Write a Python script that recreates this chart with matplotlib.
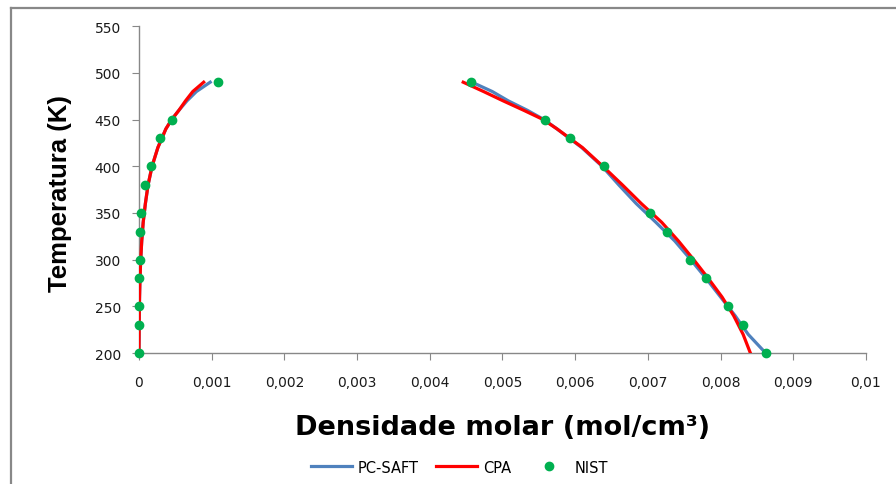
import matplotlib
matplotlib.use("Agg")
import matplotlib.pyplot as plt
from matplotlib.lines import Line2D

# ── Saturation curve data (T in K, molar density in mol/cm³) ─────────────────
T_MODEL = [200, 220, 240, 260, 280, 300, 320, 340, 360, 380, 400, 420,
           440, 450, 460, 470, 480, 490]

PCSAFT_VAP = [0.000000, 0.000002, 0.000004, 0.000008, 0.000014, 0.000024,
              0.000038, 0.000058, 0.000088, 0.000125, 0.000180, 0.000260,
              0.000370, 0.000450, 0.000550, 0.000660, 0.000790, 0.000980]
PCSAFT_LIQ = [0.00862, 0.00838, 0.00820, 0.00800, 0.00780, 0.00759,
              0.00737, 0.00711, 0.00684, 0.00660, 0.00637, 0.00609,
              0.00575, 0.00557, 0.00534, 0.00508, 0.00486, 0.00458]

CPA_VAP = [0.000000, 0.000002, 0.000004, 0.000008, 0.000014, 0.000024,
           0.000038, 0.000058, 0.000088, 0.000125, 0.000180, 0.000260,
           0.000370, 0.000450, 0.000550, 0.000640, 0.000740, 0.000890]
CPA_LIQ = [0.00841, 0.00831, 0.00818, 0.00802, 0.00783, 0.00763,
           0.00742, 0.00719, 0.00691, 0.00665, 0.00638, 0.00610,
           0.00575, 0.00556, 0.00529, 0.00501, 0.00474, 0.00446]

T_NIST_VAP = [200, 230, 250, 280, 300, 330, 350, 380, 400, 430, 450, 490]
NIST_VAP = [0.0, 0.0, 0.0, 0.0, 0.00001, 0.00001, 0.00003, 0.00008,
            0.00016, 0.00029, 0.00046, 0.00109]
T_NIST_LIQ = [200, 230, 250, 280, 300, 330, 350, 400, 430, 450, 490]
NIST_LIQ = [0.00862, 0.00831, 0.00810, 0.00780, 0.00758, 0.00726,
            0.00703, 0.00640, 0.00593, 0.00558, 0.00457]

X_TICKS = [0.000, 0.001, 0.002, 0.003, 0.004, 0.005, 0.006, 0.007, 0.008,
           0.009, 0.010]
X_TICK_LABELS = ["0", "0,001", "0,002", "0,003", "0,004", "0,005", "0,006",
                 "0,007", "0,008", "0,009", "0,01"]
Y_TICKS = [200, 250, 300, 350, 400, 450, 500, 550]

BLUE = "#4F81BD"
RED = "#FF0000"
GREEN = "#00B050"
GREY = "#888888"

fig = plt.figure(figsize=(8.96, 4.85), dpi=100)
ax = fig.add_axes([0.1551, 0.270, 0.8114, 0.674])

# frame around the whole chart area
fig.add_artist(Line2D([0.0123, 0.0123], [0.0, 0.9814], transform=fig.transFigure,
                      color=GREY, lw=1.6))
fig.add_artist(Line2D([0.0123, 1.0], [0.9814, 0.9814], transform=fig.transFigure,
                      color=GREY, lw=1.6))

ax.plot(PCSAFT_VAP, T_MODEL, color=BLUE, lw=2.3, zorder=2)
ax.plot(PCSAFT_LIQ, T_MODEL, color=BLUE, lw=2.3, zorder=2, label="PC-SAFT")
ax.plot(CPA_VAP, T_MODEL, color=RED, lw=2.3, zorder=3)
ax.plot(CPA_LIQ, T_MODEL, color=RED, lw=2.3, zorder=3, label="CPA")
ax.plot(NIST_VAP, T_NIST_VAP, ls="none", marker="o", ms=6, color=GREEN,
        mec=GREEN, zorder=4, clip_on=False)
ax.plot(NIST_LIQ, T_NIST_LIQ, ls="none", marker="o", ms=6, color=GREEN,
        mec=GREEN, zorder=4, clip_on=False, label="NIST")

ax.set_xlim(0, 0.01)
ax.set_ylim(200, 550)
ax.set_xticks(X_TICKS)
ax.set_xticklabels(X_TICK_LABELS)
ax.set_yticks(Y_TICKS)

for side in ["top", "right"]:
    ax.spines[side].set_visible(False)
for side in ["left", "bottom"]:
    ax.spines[side].set_color(GREY)
    ax.spines[side].set_linewidth(1.0)

ax.tick_params(axis="x", direction="out", length=5, color=GREY, pad=11,
               labelsize=10, labelcolor="#1a1a1a")
ax.tick_params(axis="y", direction="out", length=5, color=GREY, pad=8,
               labelsize=10, labelcolor="#1a1a1a")

ax.set_xlabel("Densidade molar (mol/cm³)", fontsize=19.5, fontweight="bold",
              family="DejaVu Sans")
ax.xaxis.set_label_coords(0.5, -0.185)
ax.set_ylabel("Temperatura (K)", fontsize=18.5, fontweight="bold",
              family="Liberation Sans")
ax.yaxis.set_label_coords(-0.092, 0.49)

fig.legend(loc="center", bbox_to_anchor=(0.513, 0.035), ncol=3, frameon=False,
           fontsize=10.5, handlelength=2.8, columnspacing=1.2, handletextpad=0.4)

fig.savefig("out.png", dpi=100, facecolor="white")
